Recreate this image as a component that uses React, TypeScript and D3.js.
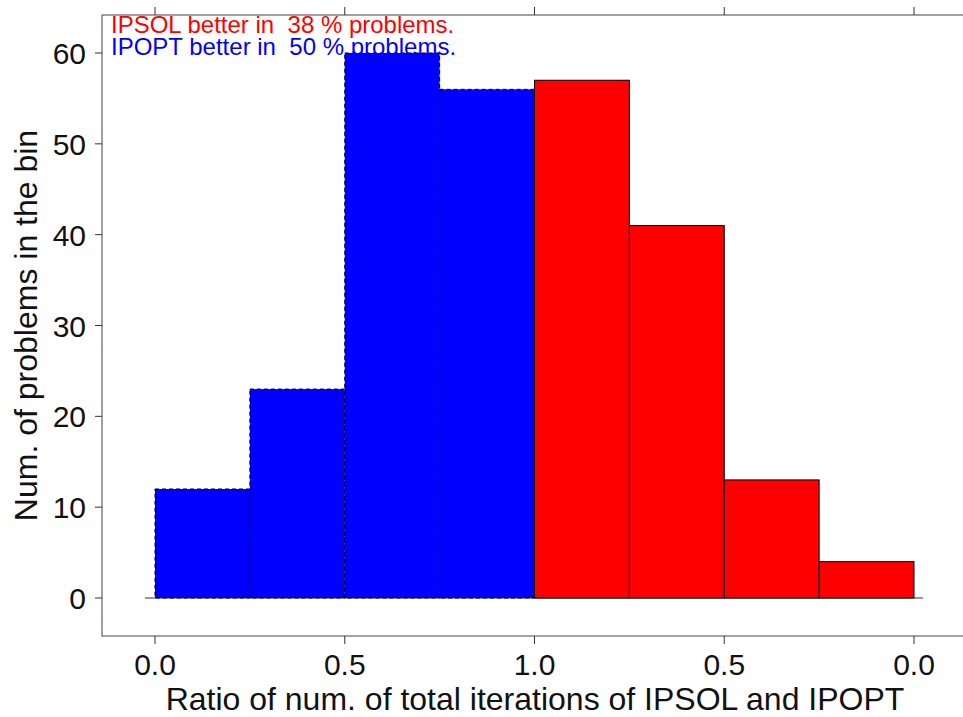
import React, { useEffect, useRef } from "react";
import * as d3 from "d3";

// bin counts, left half = IPOPT better (blue), right half = IPSOL better (red)
const blueCounts = [12, 23, 60, 56];
const redCounts = [57, 41, 13, 4];
const xTickPos = [0, 0.5, 1.0, 1.5, 2.0];
const xTickLabels = ["0.0", "0.5", "1.0", "0.5", "0.0"];
const yTicks = [0, 10, 20, 30, 40, 50, 60];
const notes = [
  { text: "IPSOL better in  38 % problems.", color: "#ff0000" },
  { text: "IPOPT better in  50 % problems.", color: "#0000ff" },
];

const W = 963,
  H = 717;
const box = { left: 102, top: 15, right: 972, bottom: 636 };
const FONT = "'Liberation Sans', Arial, Helvetica, sans-serif";

export default function App() {
  const ref = useRef<SVGSVGElement>(null);

  useEffect(() => {
    const svg = d3.select(ref.current);
    svg.selectAll("*").remove();

    const x = d3.scaleLinear().domain([0, 2]).range([155, 914]);
    const y = d3.scaleLinear().domain([0, 60]).range([598, 53]);
    const bw = 0.25;

    // baseline
    svg
      .append("line")
      .attr("x1", x(0) - 10)
      .attr("x2", x(2) + 9)
      .attr("y1", y(0))
      .attr("y2", y(0))
      .attr("stroke", "#777")
      .attr("stroke-width", 1.5);

    svg
      .selectAll(".bar-blue")
      .data(blueCounts)
      .enter()
      .append("rect")
      .attr("class", "bar-blue")
      .attr("x", (d, i) => x(i * bw))
      .attr("y", (d) => y(d))
      .attr("width", x(bw) - x(0))
      .attr("height", (d) => y(0) - y(d))
      .attr("fill", "#0000ff")
      .attr("stroke", "#000")
      .attr("stroke-width", 1)
      .attr("stroke-dasharray", "4,3");

    svg
      .selectAll(".bar-red")
      .data(redCounts)
      .enter()
      .append("rect")
      .attr("class", "bar-red")
      .attr("x", (d, i) => x(1 + i * bw))
      .attr("y", (d) => y(d))
      .attr("width", x(bw) - x(0))
      .attr("height", (d) => y(0) - y(d))
      .attr("fill", "#ff0000")
      .attr("stroke", "#000")
      .attr("stroke-width", 1);

    // frame
    svg
      .append("rect")
      .attr("x", box.left)
      .attr("y", box.top)
      .attr("width", box.right - box.left)
      .attr("height", box.bottom - box.top)
      .attr("fill", "none")
      .attr("stroke", "#444")
      .attr("stroke-width", 1);

    // x ticks bottom and top
    xTickPos.forEach((v, i) => {
      svg
        .append("line")
        .attr("x1", x(v))
        .attr("x2", x(v))
        .attr("y1", box.bottom)
        .attr("y2", box.bottom + 8)
        .attr("stroke", "#333");
      svg
        .append("line")
        .attr("x1", x(v))
        .attr("x2", x(v))
        .attr("y1", box.top)
        .attr("y2", box.top - 8)
        .attr("stroke", "#333");
      svg
        .append("text")
        .attr("x", x(v))
        .attr("y", 675)
        .attr("text-anchor", "middle")
        .style("font-family", FONT)
        .style("font-size", "30px")
        .attr("fill", "#111")
        .text(xTickLabels[i]);
    });

    // y ticks
    yTicks.forEach((v) => {
      svg
        .append("line")
        .attr("x1", box.left - 7)
        .attr("x2", box.left)
        .attr("y1", y(v))
        .attr("y2", y(v))
        .attr("stroke", "#333");
      svg
        .append("text")
        .attr("x", 86)
        .attr("y", y(v) + 11)
        .attr("text-anchor", "end")
        .style("font-family", FONT)
        .style("font-size", "30px")
        .attr("fill", "#111")
        .text(v);
    });

    svg
      .append("text")
      .attr("x", 535)
      .attr("y", 710)
      .attr("text-anchor", "middle")
      .style("font-family", FONT)
      .style("font-size", "32px")
      .attr("fill", "#111")
      .text("Ratio of num. of total iterations of IPSOL and IPOPT");

    svg
      .append("text")
      .attr("transform", `translate(37,${(box.top + box.bottom) / 2}) rotate(-90)`)
      .attr("text-anchor", "middle")
      .style("font-family", FONT)
      .style("font-size", "32px")
      .attr("fill", "#111")
      .text("Num. of problems in the bin");

    notes.forEach((n, i) => {
      svg
        .append("text")
        .attr("x", 111)
        .attr("y", 33 + i * 22)
        .style("font-family", FONT)
        .style("font-size", "24px")
        .style("white-space", "pre")
        .attr("fill", n.color)
        .text(n.text);
    });
  }, []);

  return (
    <svg
      ref={ref}
      width={W}
      height={H}
      style={{ position: "absolute", left: 0, top: 0, background: "#fff" }}
    />
  );
}
